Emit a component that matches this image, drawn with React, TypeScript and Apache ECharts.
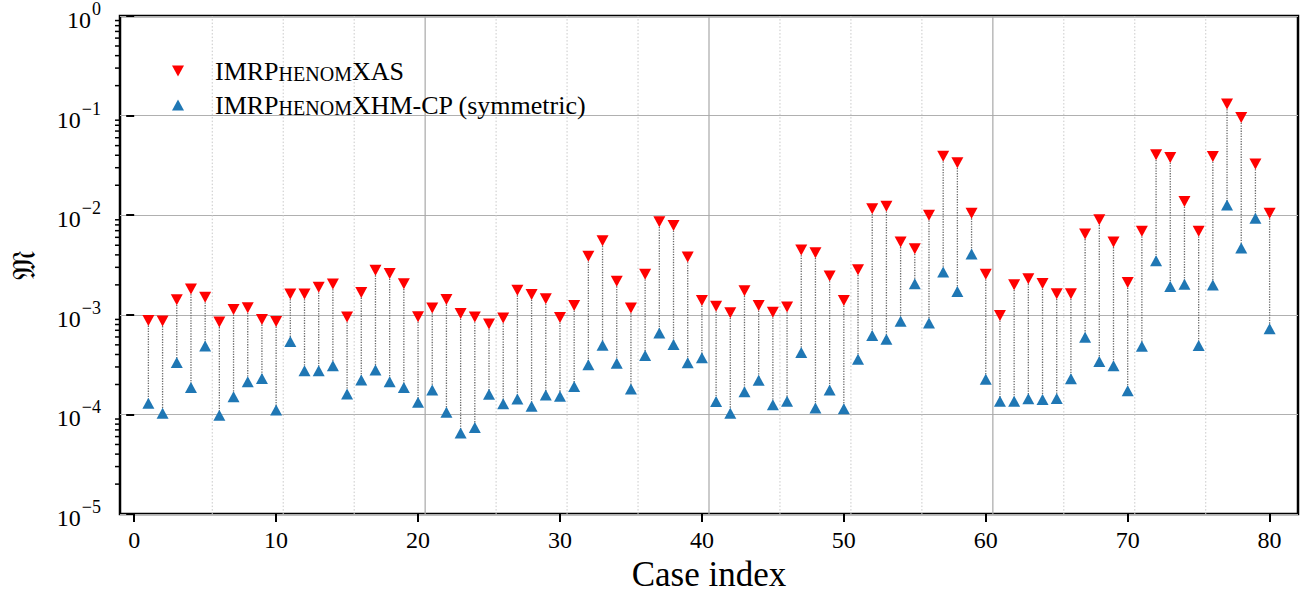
import React, { useEffect, useRef } from 'react';
import * as echarts from 'echarts';

const caseIndex: number[] = Array.from({ length: 80 }, (_, i) => i + 1);

const xasValues: number[] = [
  8.8e-4, 8.7e-4, 1.42e-3, 1.82e-3, 1.5e-3, 8.5e-4, 1.13e-3, 1.18e-3, 9.0e-4, 8.6e-4,
  1.62e-3, 1.62e-3, 1.89e-3, 2.04e-3, 9.5e-4, 1.68e-3, 2.81e-3, 2.6e-3, 2.05e-3, 9.6e-4,
  1.17e-3, 1.43e-3, 1.03e-3, 9.5e-4, 8.1e-4, 9.3e-4, 1.77e-3, 1.6e-3, 1.45e-3, 9.4e-4,
  1.24e-3, 3.88e-3, 5.56e-3, 2.18e-3, 1.17e-3, 2.55e-3, 8.6e-3, 7.9e-3, 3.8e-3, 1.39e-3,
  1.22e-3, 1.05e-3, 1.75e-3, 1.24e-3, 1.06e-3, 1.2e-3, 4.48e-3, 4.2e-3, 2.45e-3, 1.39e-3,
  2.83e-3, 1.16e-2, 1.23e-2, 5.4e-3, 4.6e-3, 1.0e-2, 3.9e-2, 3.37e-2, 1.05e-2, 2.56e-3,
  9.85e-4, 2.0e-3, 2.31e-3, 2.06e-3, 1.63e-3, 1.63e-3, 6.5e-3, 9.0e-3, 5.4e-3, 2.11e-3,
  6.9e-3, 4.04e-2, 3.8e-2, 1.37e-2, 6.9e-3, 3.88e-2, 1.306e-1, 9.55e-2, 3.26e-2, 1.05e-2,
];

const xhmValues: number[] = [
  1.3e-4, 1.03e-4, 3.32e-4, 1.87e-4, 4.87e-4, 9.8e-5, 1.51e-4, 2.13e-4, 2.3e-4, 1.11e-4,
  5.4e-4, 2.75e-4, 2.75e-4, 3.08e-4, 1.61e-4, 2.22e-4, 2.79e-4, 2.13e-4, 1.87e-4, 1.33e-4,
  1.76e-4, 1.05e-4, 6.5e-5, 7.4e-5, 1.6e-4, 1.28e-4, 1.43e-4, 1.21e-4, 1.57e-4, 1.52e-4,
  1.91e-4, 3.16e-4, 4.96e-4, 3.26e-4, 1.8e-4, 3.92e-4, 6.58e-4, 5.04e-4, 3.31e-4, 3.71e-4,
  1.35e-4, 1.03e-4, 1.69e-4, 2.2e-4, 1.25e-4, 1.36e-4, 4.18e-4, 1.16e-4, 1.76e-4, 1.14e-4,
  3.59e-4, 6.22e-4, 5.68e-4, 8.65e-4, 2.05e-3, 8.3e-4, 2.7e-3, 1.72e-3, 4.08e-3, 2.26e-4,
  1.36e-4, 1.36e-4, 1.44e-4, 1.41e-4, 1.45e-4, 2.28e-4, 5.96e-4, 3.41e-4, 3.09e-4, 1.73e-4,
  4.84e-4, 3.5e-3, 1.93e-3, 2.03e-3, 4.92e-4, 1.99e-3, 1.27e-2, 4.7e-3, 9.33e-3, 7.26e-4,
];

const xTickValues: number[] = [0, 10, 20, 30, 40, 50, 60, 70, 80];
const dottedGridX: number[] = [5.5, 10.5, 15.5, 25.5, 30.5, 35.5, 45.5, 50.5, 55.5, 65.5, 70.5, 75.5];
const solidGridX: number[] = [20.5, 40.5, 60.5];
const yMinorTicks: number[] = [];
for (let e = -5; e <= -1; e++) {
  for (let m = 2; m <= 9; m++) yMinorTicks.push(m * Math.pow(10, e));
}

const NAME_XAS = 'IMRPhenomXAS';
const NAME_XHM = 'IMRPhenomXHM-CP (symmetric)';
const FONT = 'Liberation Serif';
const DOWN_TRI = 'path://M0,0 L12,0 L6,11 Z';
const UP_TRI = 'path://M6,0 L12,11 L0,11 Z';

export default function App() {
  const ref = useRef<HTMLDivElement>(null);
  useEffect(() => {
    const chart = echarts.init(ref.current!, null, { renderer: 'svg' });
    const vline = (style: any) => (params: any, api: any) => {
      const x = api.value(0);
      const p1 = api.coord([x, 1e-5]);
      const p2 = api.coord([x, 1]);
      return { type: 'line', shape: { x1: p1[0], y1: p1[1], x2: p2[0], y2: p2[1] }, style };
    };
    const option: any = {
      animation: false,
      grid: { left: 118, top: 16, right: 13, bottom: 79, show: true, borderColor: '#000', borderWidth: 2.5 },
      legend: {
        orient: 'vertical',
        left: 167,
        top: 53,
        itemWidth: 12,
        itemHeight: 11,
        itemGap: 8,
        selectedMode: false,
        data: [
          { name: NAME_XAS, icon: DOWN_TRI },
          { name: NAME_XHM, icon: UP_TRI },
        ],
        formatter: (name: string) =>
          name === NAME_XAS
            ? '{sp| }{n|IMRP}{c|HENOM}{n|XAS}'
            : '{sp| }{n|IMRP}{c|HENOM}{n|XHM-CP (symmetric)}',
        textStyle: {
          fontFamily: FONT,
          fontSize: 26,
          color: '#000',
          rich: {
            sp: { width: 26, fontSize: 10, verticalAlign: 'bottom', lineHeight: 26 },
            n: { fontFamily: FONT, fontSize: 26, color: '#000', verticalAlign: 'bottom', lineHeight: 26 },
            c: { fontFamily: FONT, fontSize: 20, color: '#000', verticalAlign: 'bottom', lineHeight: 22 },
          },
        },
      },
      xAxis: {
        type: 'value',
        min: -1,
        max: 82,
        name: 'Case index',
        nameLocation: 'middle',
        nameGap: 41,
        nameTextStyle: { fontFamily: FONT, fontSize: 35, color: '#000' },
        axisLine: { show: false },
        axisTick: { show: true, customValues: xTickValues, length: 8, lineStyle: { color: '#000', width: 2 } },
        axisLabel: { customValues: xTickValues, margin: 14, fontFamily: FONT, fontSize: 24, color: '#000' },
        splitLine: { show: false },
      },
      yAxis: {
        type: 'log',
        logBase: 10,
        min: 1e-5,
        max: 1,
        interval: 1,
        name: '\u{1D510}',
        nameLocation: 'middle',
        nameGap: 80,
        nameRotate: 90,
        nameTextStyle: { fontFamily: 'DejaVu Serif, DejaVu Sans, serif', fontSize: 32, color: '#000' },
        axisLine: { show: false },
        axisTick: { show: true, length: 8, lineStyle: { color: '#000', width: 2 } },
        axisLabel: {
          margin: 19,
          formatter: (v: number) => {
            const e = Math.round(Math.log10(v));
            return `{b|10}{s|${e < 0 ? '\u2212' + -e : e}}`;
          },
          rich: {
            b: { fontFamily: FONT, fontSize: 24, color: '#000', verticalAlign: 'bottom', lineHeight: 32 },
            s: { fontFamily: FONT, fontSize: 18, color: '#000', verticalAlign: 'top', lineHeight: 18, padding: [0, 0, 0, 1] },
          },
        },
        splitLine: { show: true, lineStyle: { color: '#b0b0b0', width: 1.2 } },
      },
      series: [
        {
          type: 'custom',
          name: 'gridDotted',
          silent: true,
          z: 1,
          data: dottedGridX.map((x) => [x, 1e-3]),
          encode: { x: 0, y: 1 },
          renderItem: vline({ stroke: '#c8c8c8', lineWidth: 1, lineDash: [1.5, 2] }),
        },
        {
          type: 'custom',
          name: 'gridSolid',
          silent: true,
          z: 1,
          data: solidGridX.map((x) => [x, 1e-3]),
          encode: { x: 0, y: 1 },
          renderItem: vline({ stroke: '#a8a8a8', lineWidth: 1.2 }),
        },
        {
          type: 'custom',
          name: 'connectors',
          silent: true,
          z: 2,
          data: caseIndex.map((c, i) => [c, xasValues[i], xhmValues[i]]),
          encode: { x: 0, y: [1, 2] },
          renderItem: (params: any, api: any) => {
            const p1 = api.coord([api.value(0), api.value(1)]);
            const p2 = api.coord([api.value(0), api.value(2)]);
            return {
              type: 'line',
              shape: { x1: p1[0], y1: p1[1], x2: p2[0], y2: p2[1] },
              style: { stroke: '#6a6a6a', lineWidth: 1.3, lineDash: [1.3, 1.3] },
            };
          },
        },
        {
          type: 'scatter',
          name: NAME_XAS,
          z: 3,
          symbol: 'triangle',
          symbolRotate: 180,
          symbolSize: [12, 11],
          itemStyle: { color: '#ff0000', opacity: 1 },
          data: caseIndex.map((c, i) => [c, xasValues[i]]),
        },
        {
          type: 'scatter',
          name: NAME_XHM,
          z: 3,
          symbol: 'triangle',
          symbolSize: [12, 11],
          itemStyle: { color: '#1f77b4', opacity: 1 },
          data: caseIndex.map((c, i) => [c, xhmValues[i]]),
        },
        {
          type: 'custom',
          name: 'minorTicks',
          silent: true,
          clip: false,
          z: 4,
          data: yMinorTicks.map((v) => [-1, v]),
          encode: { x: 0, y: 1 },
          renderItem: (params: any, api: any) => {
            const p = api.coord([api.value(0), api.value(1)]);
            return {
              type: 'line',
              shape: { x1: p[0] - 5, y1: p[1], x2: p[0], y2: p[1] },
              style: { stroke: '#000', lineWidth: 1.5 },
            };
          },
        },
      ],
    };
    chart.setOption(option);
    return () => chart.dispose();
  }, []);
  return <div ref={ref} style={{ position: 'absolute', left: 0, top: 0, width: 1311, height: 597 }} />;
}
